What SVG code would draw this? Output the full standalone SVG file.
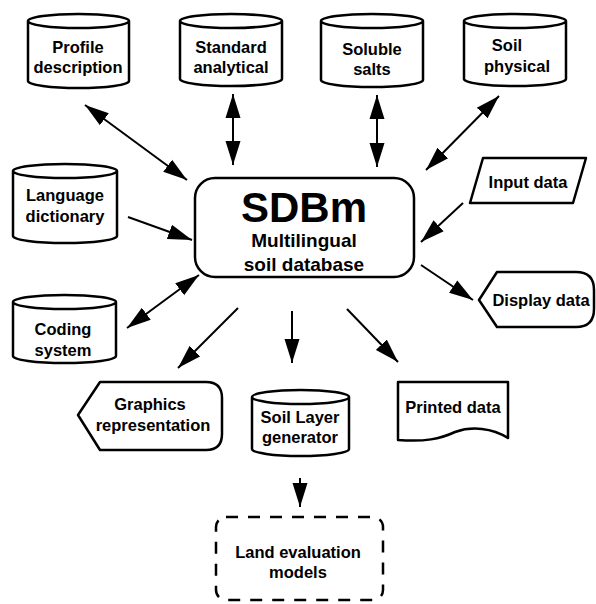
<svg xmlns="http://www.w3.org/2000/svg" width="596" height="604" viewBox="0 0 596 604">
<style>
.s{fill:#fff;stroke:#000;stroke-width:2.5;stroke-linejoin:round}
.t{font-family:"Liberation Sans",Arial,sans-serif;font-weight:bold;font-size:16.5px;text-anchor:middle;fill:#000}
.a{stroke:#000;stroke-width:2;fill:none}
</style>
<defs>
<marker id="ah" markerUnits="userSpaceOnUse" markerWidth="26" markerHeight="16" refX="24" refY="8" orient="auto-start-reverse">
<path d="M0,0.5 L24,8 L0,15.5 Z" fill="#000"/>
</marker>
</defs>
<rect width="596" height="604" fill="#fff"/>
<g id="connectors">
<line class="a" x1="85" y1="105" x2="187" y2="180" marker-start="url(#ah)" marker-end="url(#ah)"/>
<line class="a" x1="233" y1="94" x2="233" y2="165" marker-start="url(#ah)" marker-end="url(#ah)"/>
<line class="a" x1="377" y1="95" x2="377" y2="167" marker-start="url(#ah)" marker-end="url(#ah)"/>
<line class="a" x1="499" y1="96" x2="426" y2="170" marker-start="url(#ah)" marker-end="url(#ah)"/>
<line class="a" x1="128" y1="217" x2="192" y2="240" marker-end="url(#ah)"/>
<line class="a" x1="463" y1="203" x2="421" y2="242" marker-end="url(#ah)"/>
<line class="a" x1="421" y1="265" x2="473" y2="300" marker-end="url(#ah)"/>
<line class="a" x1="199" y1="275" x2="127" y2="328" marker-start="url(#ah)" marker-end="url(#ah)"/>
<line class="a" x1="238" y1="308" x2="178" y2="368" marker-end="url(#ah)"/>
<line class="a" x1="292" y1="311" x2="292" y2="363" marker-end="url(#ah)"/>
<line class="a" x1="347" y1="309" x2="398" y2="362" marker-end="url(#ah)"/>
<line class="a" x1="300" y1="478" x2="300" y2="507" marker-end="url(#ah)"/>
</g>
<g id="profile">
<path class="s" d="M28,21 A50.5,7 0 0 1 129,21 V81 A50.5,7 0 0 1 28,81 Z M28,21 A50.5,7 0 0 0 129,21"/>
<text class="t" x="78" y="53">Profile</text><text class="t" x="78" y="73">description</text>
</g>
<g id="standard">
<path class="s" d="M180,21 A51,7 0 0 1 282,21 V79 A51,7 0 0 1 180,79 Z M180,21 A51,7 0 0 0 282,21"/>
<text class="t" x="231" y="53">Standard</text><text class="t" x="231" y="73">analytical</text>
</g>
<g id="soluble">
<path class="s" d="M321,21 A51,7 0 0 1 423,21 V80 A51,7 0 0 1 321,80 Z M321,21 A51,7 0 0 0 423,21"/>
<text class="t" x="372" y="55">Soluble</text><text class="t" x="372" y="75">salts</text>
</g>
<g id="physical">
<path class="s" d="M464,21 A51,7 0 0 1 566,21 V79 A51,7 0 0 1 464,79 Z M464,21 A51,7 0 0 0 566,21"/>
<text class="t" x="507" y="51">Soil</text><text class="t" x="517" y="72">physical</text>
</g>
<g id="language">
<path class="s" d="M13,171 A52,7 0 0 1 117,171 V236 A52,7 0 0 1 13,236 Z M13,171 A52,7 0 0 0 117,171"/>
<text class="t" x="65" y="201">Language</text><text class="t" x="65" y="222">dictionary</text>
</g>
<g id="coding">
<path class="s" d="M13,302 A51.5,7 0 0 1 116,302 V356 A51.5,7 0 0 1 13,356 Z M13,302 A51.5,7 0 0 0 116,302"/>
<text class="t" x="63" y="335">Coding</text><text class="t" x="63" y="356">system</text>
</g>
<g id="sdbm">
<rect class="s" x="195" y="178" width="219" height="99" rx="20"/>
<text class="t" x="304" y="222" style="font-size:42px">SDBm</text>
<text class="t" x="304" y="247" style="font-size:19px">Multilingual</text>
<text class="t" x="304" y="271" style="font-size:19px">soil database</text>
</g>
<g id="input">
<path class="s" d="M483,158 H586 L573,203 H470 Z"/>
<text class="t" x="528" y="188">Input data</text>
</g>
<g id="display">
<path class="s" d="M479,300 L497,272 H576 Q594,272 594,290 V309 Q594,327 576,327 H497 Z"/>
<text class="t" x="541" y="306">Display data</text>
</g>
<g id="graphics">
<path class="s" d="M78,415 L100,382 H206 Q222,382 222,398 V434 Q222,450 206,450 H100 Z"/>
<text class="t" x="150" y="410">Graphics</text><text class="t" x="153" y="431">representation</text>
</g>
<g id="soillayer">
<path class="s" d="M252,397 A48.5,7 0 0 1 349,397 V449 A48.5,7 0 0 1 252,449 Z M252,397 A48.5,7 0 0 0 349,397"/>
<text class="t" x="300" y="423">Soil Layer</text><text class="t" x="300" y="443">generator</text>
</g>
<g id="printed">
<path class="s" d="M398,382 H508 V438 C492,428 472,426 455,432 C440,439 425,442 398,440 Z"/>
<text class="t" x="453" y="413">Printed data</text>
</g>
<g id="land">
<rect x="216" y="517" width="167" height="83" rx="10" fill="#fff" stroke="#000" stroke-width="2.5" stroke-dasharray="12,10"/>
<text class="t" x="298" y="558">Land evaluation</text><text class="t" x="298" y="578">models</text>
</g>
</svg>
